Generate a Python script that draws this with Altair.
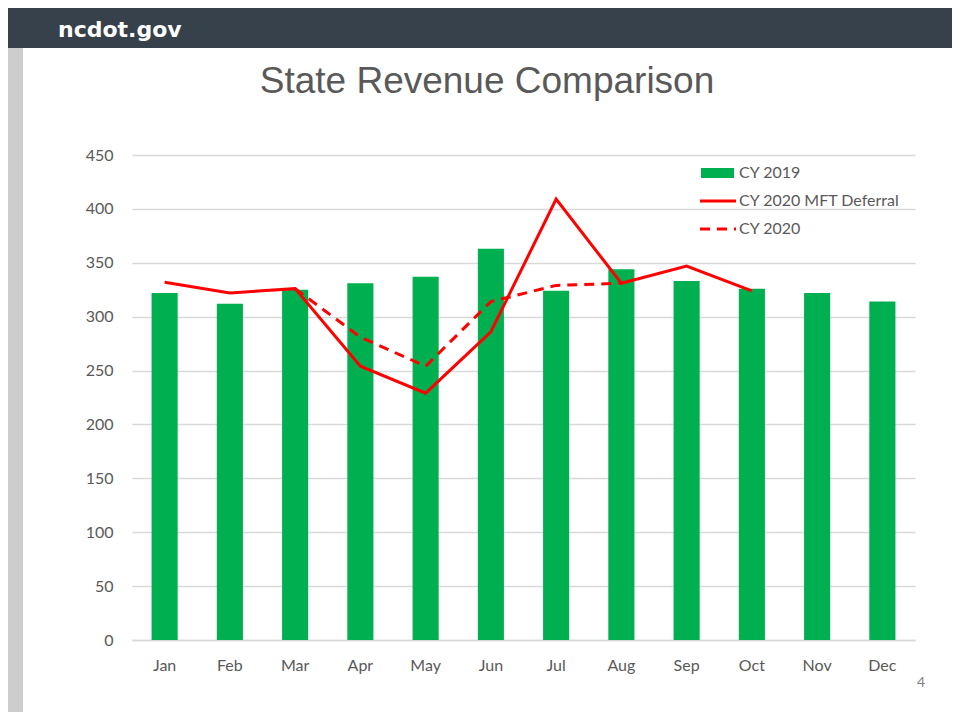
import altair as alt
import pandas as pd

# ---- data ----
months = ["Jan", "Feb", "Mar", "Apr", "May", "Jun", "Jul", "Aug", "Sep", "Oct", "Nov", "Dec"]
cy2019 = [322, 312, 325, 331, 337, 363, 324, 344, 333, 326, 322, 314]
mft_deferral = [332, 322, 326, 254, 229, 286, 409, 331, 347, 324, None, None]
cy2020 = [None, None, 326, 281, 254, 314, 329, 331, None, None, None, None]
series_names = ["CY 2019", "CY 2020 MFT Deferral", "CY 2020"]
y_ticks = [0, 50, 100, 150, 200, 250, 300, 350, 400, 450]
title_text = "State Revenue Comparison"
header_text = "ncdot.gov"
page_number = "4"

GREEN = "#00b050"
RED = "#ff0000"
GRAY_TEXT = "#595959"
FONT = "Lato"

bars_df = pd.DataFrame({"month": months, "value": cy2019})
solid_df = pd.DataFrame({"month": months, "value": mft_deferral}).dropna()
dash_df = pd.DataFrame({"month": months, "value": cy2020}).dropna()
one = pd.DataFrame({"k": [0]})

W, H = 783, 485

x_enc = alt.X(
    "month:N",
    sort=months,
    scale=alt.Scale(paddingInner=0.6, paddingOuter=0.3),
    axis=alt.Axis(
        title=None, labelAngle=0, ticks=False, domainColor="#d9d9d9", domainWidth=1.5,
        labelColor=GRAY_TEXT, labelFont=FONT, labelFontSize=16, labelPadding=17,
    ),
)
y_enc = alt.Y(
    "value:Q",
    scale=alt.Scale(domain=[0, 450], nice=False, zero=True),
    axis=alt.Axis(
        title=None, values=y_ticks, ticks=False, domain=False, grid=True,
        gridColor="#d9d9d9", gridWidth=1.5, labelColor=GRAY_TEXT, labelFont=FONT,
        labelFontSize=16, labelPadding=19,
    ),
)

bars = alt.Chart(bars_df).mark_bar(color=GREEN).encode(x=x_enc, y=y_enc)
dashed = alt.Chart(dash_df).mark_line(color=RED, strokeWidth=3, strokeDash=[10, 7]).encode(
    x=alt.X("month:N", sort=months), y="value:Q"
)
solid = alt.Chart(solid_df).mark_line(color=RED, strokeWidth=3).encode(
    x=alt.X("month:N", sort=months), y="value:Q"
)

# ---- slide decoration (header bar, side strip, title, page number) ----
header = alt.Chart(one).mark_rect(color="#37414c").encode(
    x=alt.value(-124), x2=alt.value(820), y=alt.value(-147), y2=alt.value(-107)
)
header_txt = alt.Chart(one).mark_text(
    text=header_text, color="white", font="DejaVu Sans", fontWeight="bold", fontSize=22,
    align="left", baseline="alphabetic",
).encode(x=alt.value(-74), y=alt.value(-118))
strip = alt.Chart(one).mark_rect(color="#cdcdcd").encode(
    x=alt.value(-124), x2=alt.value(-109), y=alt.value(-107), y2=alt.value(560)
)
title = alt.Chart(one).mark_text(
    text=title_text, color=GRAY_TEXT, font="Liberation Sans", fontSize=37,
    align="center", baseline="alphabetic",
).encode(x=alt.value(355), y=alt.value(-62))
pnum = alt.Chart(one).mark_text(
    text=page_number, color="#7f7f7f", font=FONT, fontSize=14, align="center", baseline="middle"
).encode(x=alt.value(789), y=alt.value(528))

# ---- legend ----
leg_sym1 = alt.Chart(one).mark_rect(color=GREEN).encode(
    x=alt.value(569), x2=alt.value(602), y=alt.value(13), y2=alt.value(23)
)
leg_sym2 = alt.Chart(one).mark_rule(color=RED, strokeWidth=3).encode(
    x=alt.value(568), x2=alt.value(604), y=alt.value(46)
)
leg_sym3 = alt.Chart(one).mark_rule(color=RED, strokeWidth=3, strokeDash=[10, 7]).encode(
    x=alt.value(568), x2=alt.value(604), y=alt.value(74)
)
leg_texts = [
    alt.Chart(one).mark_text(
        text=name, color=GRAY_TEXT, font=FONT, fontSize=16, align="left", baseline="middle"
    ).encode(x=alt.value(607), y=alt.value(yy))
    for name, yy in zip(series_names, [18, 46, 74])
]

chart = alt.layer(
    header, header_txt, strip, title, pnum,
    bars, dashed, solid,
    leg_sym1, leg_sym2, leg_sym3, *leg_texts,
).properties(
    width=W, height=H,
    autosize=alt.AutoSizeParams(type="none"),
    padding={"left": 124, "top": 147, "right": 37, "bottom": 72},
    background="white",
).configure_view(stroke=None)

chart.save("out.html", embed_options={"renderer": "svg", "actions": False})
